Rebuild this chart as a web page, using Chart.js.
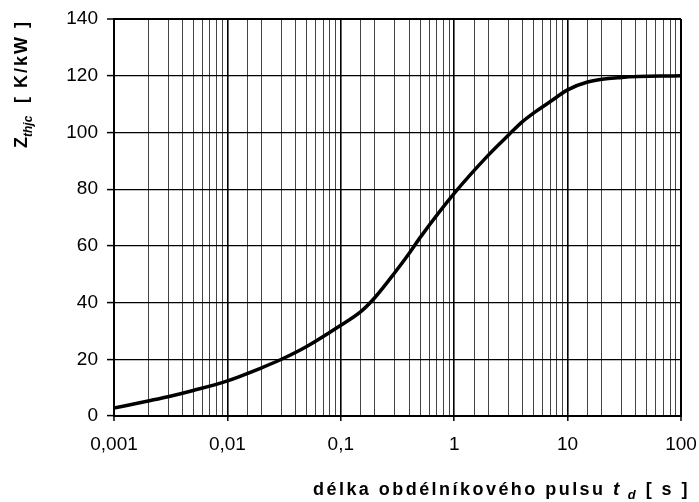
<!DOCTYPE html>
<html>
<head>
<meta charset="utf-8">
<script src="https://cdn.jsdelivr.net/npm/chart.js@4.4.1/dist/chart.umd.min.js"></script>
<style>
  html, body { margin: 0; padding: 0; background: #fff; }
  #wrap { width: 699px; height: 502px; position: relative; }
</style>
</head>
<body>
<div id="wrap"><canvas id="c"></canvas></div>
<script>
/* ── DATA ── */
var pulseTimes = [0.001, 0.002, 0.003, 0.005, 0.01, 0.02, 0.03, 0.05, 0.1, 0.15, 0.2, 0.3, 0.4, 0.5, 1, 2, 3, 4, 5, 7, 10, 15, 30, 100];
var zthValues  = [2.8,   5.3,   6.8,   9,     12.4, 17,   20,   24.5, 32,  36.8, 41.8, 50.6, 57.3, 62.9, 78.5, 92, 99, 103.8, 106.8, 110.8, 115, 117.8, 119.4, 120];
var yTicks     = [0, 20, 40, 60, 80, 100, 120, 140];
var xDecades   = [0.001, 0.01, 0.1, 1, 10, 100];

var FONT = '"Liberation Sans", Arial, sans-serif';

function isDecade(v) {
  for (var i = 0; i < xDecades.length; i++) {
    if (Math.abs(v - xDecades[i]) < xDecades[i] * 1e-6) return true;
  }
  return false;
}

function fmtComma(v) {
  return String(v).replace('.', ',');
}

// draws runs of text one after another, returns end position
function drawRuns(ctx, parts, x, y, spacing) {
  for (var i = 0; i < parts.length; i++) {
    ctx.font = parts[i].f + FONT;
    ctx.letterSpacing = spacing + 'px';
    ctx.fillText(parts[i].t, x, y + parts[i].dy);
    x += ctx.measureText(parts[i].t).width;
  }
  return x;
}

function runsWidth(ctx, parts, spacing) {
  var w = 0;
  for (var i = 0; i < parts.length; i++) {
    ctx.font = parts[i].f + FONT;
    ctx.letterSpacing = spacing + 'px';
    w += ctx.measureText(parts[i].t).width;
  }
  return w;
}

/* ── AXIS TITLES (drawn by hand for sub/italic parts) ── */
var titlesPlugin = {
  id: 'titles',
  afterDraw: function(chart) {
    var ctx = chart.ctx;

    // y title, rotated
    ctx.save();
    ctx.fillStyle = '#000';
    ctx.textBaseline = 'alphabetic';
    ctx.translate(27, 148);
    ctx.rotate(-Math.PI / 2);
    drawRuns(ctx, [
      { t: 'Z', f: 'bold 18px ', dy: 0 },
      { t: 'thjc', f: 'italic bold 12px ', dy: 5 }
    ], 0, 0, 0);
    drawRuns(ctx, [{ t: '[ K/kW ]', f: 'bold 18px ', dy: 0 }], 45, 0, 2);
    ctx.restore();

    // x title, stretched to the reference width
    ctx.save();
    ctx.fillStyle = '#000';
    ctx.textBaseline = 'alphabetic';
    var parts = [
      { t: 'délka obdélníkového pulsu ', f: 'bold 18px ', dy: 0 },
      { t: 't', f: 'italic bold 19px ', dy: 0 },
      { t: ' d', f: 'italic bold 13px ', dy: 4 },
      { t: ' [ s ]', f: 'bold 18px ', dy: 0 }
    ];
    var n = 0;
    for (var i = 0; i < parts.length; i++) n += parts[i].t.length;
    var natural = runsWidth(ctx, parts, 0);
    var sp = (377 - natural) / n;
    drawRuns(ctx, parts, 313, 495, sp);
    ctx.restore();
  }
};

var points = [];
for (var i = 0; i < pulseTimes.length; i++) points.push({ x: pulseTimes[i], y: zthValues[i] });

new Chart(document.getElementById('c'), {
  type: 'line',
  data: {
    datasets: [{
      data: points,
      borderColor: '#000',
      borderWidth: 3.5,
      pointRadius: 0,
      fill: false,
      cubicInterpolationMode: 'monotone'
    }]
  },
  options: {
    responsive: true,
    maintainAspectRatio: false,
    animation: false,
    layout: { padding: { top: 19, right: 18, left: 0, bottom: 0 } },
    plugins: { legend: { display: false }, tooltip: { enabled: false } },
    scales: {
      x: {
        type: 'logarithmic',
        min: 0.001,
        max: 100,
        afterFit: function(s) { s.height = 86; s.paddingLeft = 0; s.paddingRight = 0; },
        border: { display: true, color: '#000', width: 2 },
        grid: {
          color: function(c) { return isDecade(c.tick.value) ? '#000' : '#444'; },
          lineWidth: function(c) {
            var v = c.tick.value;
            if (v === 0.001 || v === 100) return 2;
            return isDecade(v) ? 1.6 : 1;
          },
          tickColor: function(c) { return isDecade(c.tick.value) ? '#000' : 'rgba(0,0,0,0)'; },
          tickLength: 5,
          tickWidth: 1.5
        },
        ticks: {
          autoSkip: false,
          maxRotation: 0,
          color: '#000',
          padding: 12,
          font: { family: FONT, size: 19 },
          callback: function(v) { return isDecade(v) ? fmtComma(v) : ''; }
        }
      },
      y: {
        min: 0,
        max: 140,
        afterFit: function(s) { s.width = 114; s.paddingTop = 0; s.paddingBottom = 0; },
        afterBuildTicks: function(s) {
          s.ticks = yTicks.map(function(v) { return { value: v }; });
        },
        border: { display: true, color: '#000', width: 2 },
        grid: {
          color: '#000',
          lineWidth: function(c) { return (c.tick.value === 140) ? 2 : 1.2; },
          tickLength: 7,
          tickWidth: 1.5
        },
        ticks: {
          color: '#000',
          padding: 9,
          font: { family: FONT, size: 19 }
        }
      }
    }
  },
  plugins: [titlesPlugin]
});
</script>
</body>
</html>
